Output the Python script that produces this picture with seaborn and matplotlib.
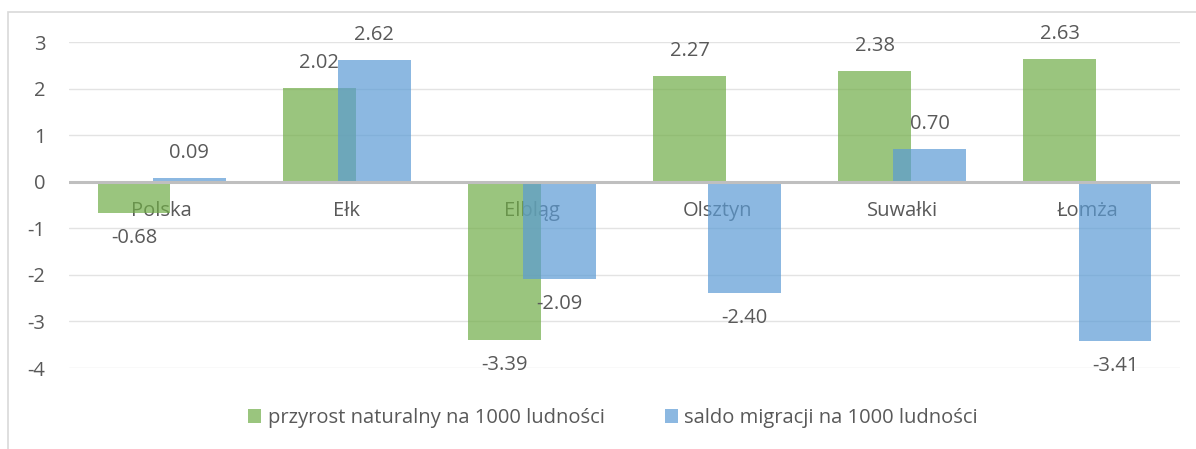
import matplotlib
matplotlib.use("Agg")
import matplotlib.pyplot as plt
import seaborn as sns
import pandas as pd
from matplotlib.patches import Patch, Rectangle

categories = ["Polska", "Ełk", "Elbląg", "Olsztyn", "Suwałki", "Łomża"]
series_names = ["przyrost naturalny na 1000 ludności", "saldo migracji na 1000 ludności"]
przyrost = [-0.68, 2.02, -3.39, 2.27, 2.38, 2.63]
saldo = [0.09, 2.62, -2.09, -2.40, 0.70, -3.41]
yticks = [-4, -3, -2, -1, 0, 1, 2, 3]

colors = ["#70AD47", "#5B9BD5"]
text_color = "#595959"
FS = 14.5

sns.set_theme(style="white")
plt.rcParams["font.family"] = ["Open Sans", "DejaVu Sans"]

df = pd.DataFrame({
    "kat": categories * 2,
    "wartosc": przyrost + saldo,
    "seria": [series_names[0]] * len(categories) + [series_names[1]] * len(categories),
})

fig = plt.figure(figsize=(11.96, 4.49), dpi=100)
ax = fig.add_axes([69 / 1196, 1 - 368 / 449, (1180 - 69) / 1196, (368 - 42) / 449])

sns.barplot(data=df, x="kat", y="wartosc", hue="seria", order=categories,
            hue_order=series_names, palette=colors, saturation=1, alpha=0.7,
            width=0.8, dodge=True, ax=ax, legend=False, errorbar=None)

bar_w = 0.394
offset = 0.149
for p in ax.patches:
    c = p.get_x() + p.get_width() / 2
    g = round(c)
    sign = -1 if c < g else 1
    p.set_width(bar_w)
    p.set_x(g + sign * offset - bar_w / 2)
    p.set_linewidth(0)

# data labels
for p in ax.patches:
    h = p.get_height()
    cx = p.get_x() + p.get_width() / 2
    dy = 18 if h >= 0 else -18
    ax.annotate(f"{h:.2f}", (cx, h), xytext=(0, dy), textcoords="offset points",
                ha="center", va="center", fontsize=FS, color=text_color)

ax.set_ylim(-4, 3)
ax.set_xlim(-0.5, len(categories) - 0.5)
ax.set_yticks(yticks)
ax.set_yticklabels([str(v) for v in yticks])
ax.yaxis.grid(True, color="#E3E3E3", linewidth=1)
ax.set_axisbelow(True)
ax.axhline(0, color="#BFBFBF", linewidth=2.2, zorder=5)

for s in ["top", "right", "left"]:
    ax.spines[s].set_visible(False)
ax.spines["bottom"].set_position(("data", 0))
ax.spines["bottom"].set_visible(False)
ax.tick_params(axis="x", length=0, pad=14, labelsize=FS, labelcolor=text_color)
ax.tick_params(axis="y", length=0, pad=17, labelsize=FS, labelcolor=text_color)
ax.set_xlabel("")
ax.set_ylabel("")
for lab in ax.get_xticklabels():
    lab.set_zorder(6)

handles = [Patch(facecolor=colors[0], alpha=0.7, edgecolor="none"),
           Patch(facecolor=colors[1], alpha=0.7, edgecolor="none")]
fig.legend(handles, series_names, loc="center", bbox_to_anchor=(613 / 1196, 1 - 418 / 449),
           ncol=2, frameon=False, fontsize=FS, handlelength=0.65, handleheight=0.65,
           handletextpad=0.3, columnspacing=3.0, labelcolor=text_color)

fig.patches.append(Rectangle((8 / 1196, -0.05), 1.1, 0.05 + 1 - 12 / 449,
                             transform=fig.transFigure, fill=False,
                             edgecolor="#D9D9D9", linewidth=1.2))

fig.savefig("out.png", dpi=100)
